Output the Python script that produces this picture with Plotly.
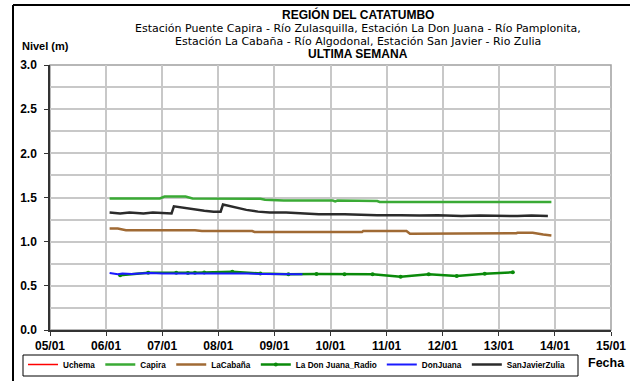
import plotly.graph_objects as go

# Station level readings (m), last week
capira_t = ["2012-01-06 01:30", "2012-01-06 12:00", "2012-01-06 23:00", "2012-01-07 01:00",
            "2012-01-07 10:00", "2012-01-07 13:00", "2012-01-08 12:00", "2012-01-08 18:00",
            "2012-01-08 20:00", "2012-01-09 04:00", "2012-01-10 01:00", "2012-01-10 02:00",
            "2012-01-10 03:00", "2012-01-10 20:00", "2012-01-10 21:00", "2012-01-13 22:30"]
capira_v = [1.49, 1.49, 1.49, 1.51, 1.51, 1.49, 1.49, 1.485, 1.475, 1.465, 1.465, 1.455,
            1.465, 1.46, 1.45, 1.45]

cabana_t = ["2012-01-06 01:30", "2012-01-06 05:00", "2012-01-06 08:30", "2012-01-06 14:00",
            "2012-01-07 00:00", "2012-01-07 14:00", "2012-01-07 17:00", "2012-01-08 12:00",
            "2012-01-08 14:30", "2012-01-08 15:30", "2012-01-09 07:00", "2012-01-09 12:00",
            "2012-01-10 08:00", "2012-01-10 13:30", "2012-01-10 14:00", "2012-01-11 08:30",
            "2012-01-11 10:00", "2012-01-12 10:00", "2012-01-12 11:00", "2012-01-13 07:30",
            "2012-01-13 08:00", "2012-01-13 14:30", "2012-01-13 19:00", "2012-01-13 22:30"]
cabana_v = [1.15, 1.15, 1.13, 1.13, 1.13, 1.13, 1.12, 1.12, 1.12, 1.11, 1.11, 1.105,
            1.11, 1.11, 1.12, 1.12, 1.09, 1.09, 1.095, 1.095, 1.10, 1.10, 1.08, 1.07]

radio_t = ["2012-01-06 06:00", "2012-01-06 18:00", "2012-01-07 06:00", "2012-01-07 11:00",
           "2012-01-07 14:00", "2012-01-07 18:00", "2012-01-08 06:00", "2012-01-08 18:00",
           "2012-01-09 06:00", "2012-01-09 18:00", "2012-01-10 06:00", "2012-01-10 18:00",
           "2012-01-11 06:00", "2012-01-11 18:00", "2012-01-12 06:00", "2012-01-12 18:00",
           "2012-01-13 06:00"]
radio_v = [0.62, 0.648, 0.648, 0.645, 0.648, 0.65, 0.66, 0.64, 0.63, 0.634, 0.63, 0.63,
           0.603, 0.63, 0.611, 0.637, 0.653]

donjuana_t = ["2012-01-06 01:30", "2012-01-06 03:00", "2012-01-06 05:00", "2012-01-06 07:00",
              "2012-01-06 11:00", "2012-01-06 14:00", "2012-01-06 19:00", "2012-01-07 00:00",
              "2012-01-07 07:00", "2012-01-07 12:00", "2012-01-07 17:00", "2012-01-07 22:00",
              "2012-01-08 05:00", "2012-01-08 12:00", "2012-01-08 19:00", "2012-01-09 02:00",
              "2012-01-09 12:00"]
donjuana_v = [0.645, 0.64, 0.63, 0.64, 0.635, 0.64, 0.645, 0.64, 0.64, 0.645, 0.645, 0.64,
              0.64, 0.64, 0.635, 0.63, 0.63]

zulia_t = ["2012-01-06 01:30", "2012-01-06 06:00", "2012-01-06 10:00", "2012-01-06 16:00",
           "2012-01-06 20:00", "2012-01-07 02:00", "2012-01-07 04:00", "2012-01-07 05:00",
           "2012-01-07 10:00", "2012-01-07 14:00", "2012-01-07 18:00", "2012-01-07 22:00",
           "2012-01-08 01:00", "2012-01-08 02:00", "2012-01-08 05:00", "2012-01-08 08:30",
           "2012-01-08 12:00", "2012-01-08 17:00", "2012-01-08 22:00", "2012-01-09 05:00",
           "2012-01-09 12:00", "2012-01-09 19:00", "2012-01-10 06:00", "2012-01-10 12:00",
           "2012-01-10 20:00", "2012-01-11 06:00", "2012-01-11 14:00", "2012-01-11 22:00",
           "2012-01-12 08:00", "2012-01-12 16:00", "2012-01-12 22:00", "2012-01-13 08:00",
           "2012-01-13 14:00", "2012-01-13 21:00"]
zulia_v = [1.33, 1.32, 1.33, 1.32, 1.33, 1.32, 1.32, 1.40, 1.38, 1.36, 1.35, 1.34,
           1.34, 1.42, 1.40, 1.38, 1.36, 1.34, 1.33, 1.33, 1.32, 1.31, 1.31, 1.305,
           1.30, 1.30, 1.295, 1.30, 1.29, 1.295, 1.29, 1.29, 1.295, 1.29]

FONT = "Liberation Sans, Arial, sans-serif"
WIDE = "DejaVu Sans, Liberation Sans, sans-serif"  # the original text is stretched sideways

# pixel -> paper helpers (plot area is x 50..611, y 65..330)
def px(x):
    return (x - 50) / 561

def py(y):
    return (330 - y) / 265

fig = go.Figure()
fig.add_trace(go.Scatter(x=[None], y=[None], name="Uchema", mode="lines",
                         line=dict(color="#ff0000", width=1.5)))
fig.add_trace(go.Scatter(x=capira_t, y=capira_v, name="Capira", mode="lines",
                         line=dict(color="#3aaa35", width=2.5)))
fig.add_trace(go.Scatter(x=cabana_t, y=cabana_v, name="LaCabaña", mode="lines",
                         line=dict(color="#a06a34", width=2.5)))
fig.add_trace(go.Scatter(x=radio_t, y=radio_v, name="La Don Juana_Radio", mode="lines+markers",
                         line=dict(color="#0a8a0a", width=2.5), marker=dict(size=4)))
fig.add_trace(go.Scatter(x=donjuana_t, y=donjuana_v, name="DonJuana", mode="lines",
                         line=dict(color="#1a1aff", width=2)))
fig.add_trace(go.Scatter(x=zulia_t, y=zulia_v, name="SanJavierZulia", mode="lines",
                         line=dict(color="#2b2b2b", width=2.5)))

fig.update_xaxes(
    type="date", range=["2012-01-05", "2012-01-15"], dtick=86400000, tickformat="%d/%m",
    showgrid=True, gridcolor="#c8c8c8", gridwidth=1.5,
    showline=True, linecolor="#333", linewidth=1.5,
    ticks="outside", ticklen=4, tickcolor="#333",
    tickfont=dict(family=FONT, size=12, color="black", weight="bold"),
)
fig.update_yaxes(
    range=[0, 3], dtick=0.5, tickformat=".1f",
    showgrid=True, gridcolor="#c8c8c8", gridwidth=1.5,
    minor=dict(dtick=0.25, showgrid=True, gridcolor="#c8c8c8", gridwidth=1.5),
    showline=True, linecolor="#333", linewidth=1.5,
    ticks="outside", ticklen=4, tickcolor="#333", ticklabelstandoff=5,
    tickfont=dict(family=FONT, size=12, color="black", weight="bold"),
    zeroline=False,
)

fig.update_layout(
    width=630, height=381,
    margin=dict(l=50, r=19, t=65, b=51, autoexpand=False),
    paper_bgcolor="white", plot_bgcolor="white",
    font=dict(family=FONT, color="black"),
    legend=dict(
        orientation="h", x=px(23), y=py(350), xanchor="left", yanchor="top",
        borderwidth=0, bgcolor="rgba(0,0,0,0)",
        font=dict(family=FONT, size=8.2, color="black", weight="bold"),
        itemwidth=30, tracegroupgap=0,
    ),
    shapes=[
        # plot border (grey), legend box and outer frame
        dict(type="rect", xref="paper", yref="paper", x0=0, x1=1, y0=0, y1=1,
             line=dict(color="#a0a0a0", width=1.5), layer="below"),
        dict(type="rect", xref="paper", yref="paper", x0=px(23), x1=px(578), y0=py(376), y1=py(355),
             line=dict(color="black", width=1)),
        dict(type="line", xref="paper", yref="paper", x0=px(13), x1=px(13), y0=py(5), y1=py(385),
             line=dict(color="black", width=2)),
        dict(type="line", xref="paper", yref="paper", x0=px(13), x1=px(640), y0=py(5), y1=py(5),
             line=dict(color="black", width=2)),
    ],
    annotations=[
        dict(text="<b>REGIÓN DEL CATATUMBO</b>", x=0.549, y=py(14.7), xref="paper", yref="paper",
             showarrow=False, font=dict(size=12), xanchor="center", yanchor="middle"),
        dict(text="Estación Puente Capira - Río Zulasquilla, Estación La Don Juana - Río Pamplonita,",
             x=0.549, y=py(28.0), xref="paper", yref="paper",
             showarrow=False, font=dict(family=WIDE, size=11), xanchor="center", yanchor="middle"),
        dict(text="Estación La Cabaña - Río Algodonal, Estación San Javier - Rio Zulia",
             x=0.549, y=py(41.0), xref="paper", yref="paper",
             showarrow=False, font=dict(family=WIDE, size=11), xanchor="center", yanchor="middle"),
        dict(text="<b>ULTIMA SEMANA</b>", x=0.549, y=py(54.3), xref="paper", yref="paper",
             showarrow=False, font=dict(size=12), xanchor="center", yanchor="middle"),
        dict(text="<b>Nivel (m)</b>", x=px(20), y=py(46), xref="paper", yref="paper",
             showarrow=False, font=dict(size=11), xanchor="left", yanchor="middle"),
        dict(text="<b>Fecha</b>", x=px(586), y=py(363), xref="paper", yref="paper",
             showarrow=False, font=dict(size=12.5), xanchor="left", yanchor="middle"),
    ],
)

fig.write_html("out.html", config={"displayModeBar": False},
               post_script="document.body.style.margin='0';")
